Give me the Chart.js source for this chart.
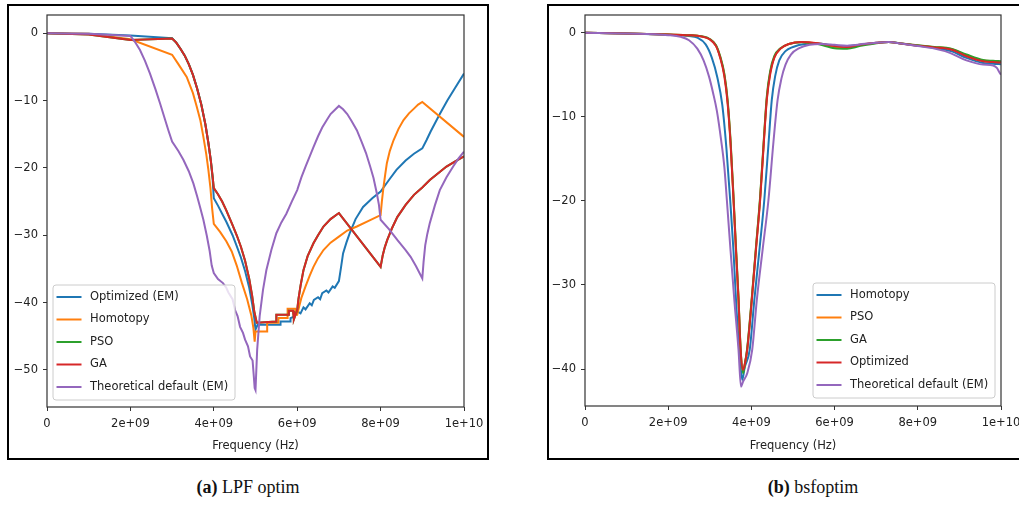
<!DOCTYPE html>
<html>
<head>
<meta charset="utf-8">
<script src="https://cdn.jsdelivr.net/npm/chart.js@4.4.1/dist/chart.umd.min.js"></script>
<style>
  body { margin: 0; background: #fff; width: 1019px; height: 505px; overflow: hidden; position: relative; }
  .panel { position: absolute; border: 2px solid #000; box-sizing: border-box; }
  canvas { position: absolute; top: 0; }
  .cap { position: absolute; top: 477px; width: 480px; text-align: center; font-family: "Liberation Serif", serif; font-size: 18px; color: #111; }
</style>
</head>
<body>
<div class="panel" style="left:7px;top:4px;width:482px;height:456px"></div>
<div class="panel" style="left:547px;top:4px;width:482px;height:456px"></div>
<canvas id="lpfChart" width="510" height="470" style="left:0"></canvas>
<canvas id="bsfChart" width="500" height="470" style="left:540px"></canvas>
<div class="cap" style="left:8px"><b>(a)</b> LPF optim</div>
<div class="cap" style="left:573px"><b>(b)</b> bsfoptim</div>
<script>
// tick labels
const xTickVals = [0, 2e9, 4e9, 6e9, 8e9, 1e10];
const xTickLabels = ['0', '2e+09', '4e+09', '6e+09', '8e+09', '1e+10'];
const lpfYTicks = [0, -10, -20, -30, -40, -50];
const bsfYTicks = [0, -10, -20, -30, -40];

// (a) LPF optim  -- frequencies in GHz, values in dB
const lpfOptX = [0, 1, 2, 3, 3.1, 3.2, 3.3, 3.4, 3.5, 3.6, 3.7, 3.8, 3.87, 3.93, 3.97, 4.0, 4.1, 4.2, 4.3, 4.45, 4.55, 4.65, 4.75, 4.85, 4.92, 4.97, 5.0, 5.05, 5.6, 5.6, 5.84, 5.84, 5.92, 6.0, 6.08, 6.15, 6.2, 6.3, 6.35, 6.4, 6.5, 6.55, 6.6, 6.7, 6.75, 6.85, 6.9, 7.0, 7.05, 7.1, 7.18, 7.26, 7.4, 7.58, 7.8, 8.0, 8.2, 8.38, 8.6, 8.8, 9.0, 9.1, 9.2, 9.31, 9.42, 9.6, 9.8, 10];
const lpfOptY = [0, -0.1, -0.35, -0.75, -1.4, -2.3, -3.3, -4.6, -6.2, -8.2, -10.6, -13.6, -16.3, -19, -21.5, -24.5, -25.6, -26.8, -28, -30, -31.6, -33.3, -35.3, -37.8, -40.2, -42.3, -44, -43.3, -43.3, -42.8, -42.8, -42.3, -42.1, -41.3, -41.6, -40.7, -41, -40.1, -40.4, -39.6, -39.2, -39.5, -38.6, -38.2, -38.5, -37.6, -37.8, -36.8, -34.8, -32.7, -31.1, -29.7, -27.6, -25.8, -24.5, -23.5, -21.8, -20.3, -18.9, -17.9, -17.1, -15.9, -14.6, -13.3, -12, -10, -8, -6];

const lpfHomX = [0, 1, 2, 3.0, 3.15, 3.35, 3.5, 3.59, 3.68, 3.75, 3.82, 3.87, 3.92, 3.96, 4.0, 4.15, 4.3, 4.43, 4.55, 4.67, 4.8, 4.9, 4.95, 4.98, 5.0, 5.28, 5.28, 5.55, 5.55, 5.77, 5.77, 5.95, 5.97, 6.0, 6.05, 6.1, 6.2, 6.3, 6.39, 6.5, 6.63, 6.8, 7.0, 7.2, 7.43, 7.7, 8.0, 8.03, 8.07, 8.11, 8.15, 8.22, 8.31, 8.43, 8.55, 8.68, 8.8, 8.9, 9.0, 10];
const lpfHomY = [0, -0.1, -0.9, -3.2, -4.6, -6.5, -8.9, -10.9, -13, -15.4, -18, -20.3, -23, -26, -28.3, -29.5, -30.9, -32.4, -34.5, -37, -39.5, -41.9, -43.8, -45.8, -44.3, -44.3, -43, -43, -42.3, -42.3, -40.9, -40.9, -41.8, -41.8, -40.5, -39.3, -37.6, -36, -34.7, -33.4, -32.2, -31.1, -30.2, -29.3, -28.7, -27.9, -27, -25, -22.8, -21, -19.3, -17.5, -15.9, -14.2, -12.9, -11.9, -11.2, -10.6, -10.2, -15.4];

const lpfGaX = [0, 1, 2, 3.0, 3.1, 3.2, 3.3, 3.4, 3.5, 3.6, 3.7, 3.8, 3.87, 3.93, 3.97, 4.0, 4.1, 4.2, 4.3, 4.45, 4.55, 4.65, 4.75, 4.85, 4.92, 4.97, 5.03, 5.5, 5.5, 5.8, 5.8, 5.9, 5.92, 6.0, 6.03, 6.08, 6.15, 6.25, 6.39, 6.5, 6.63, 6.8, 7.0, 8.0, 8.05, 8.1, 8.16, 8.27, 8.4, 8.6, 8.8, 9.0, 9.18, 9.38, 9.58, 9.8, 10];
const lpfGaY = [0, -0.2, -1.0, -0.8, -1.4, -2.3, -3.3, -4.6, -6.2, -8.2, -10.6, -13.6, -16.3, -19, -21.2, -23, -23.9, -25, -26.3, -28.5, -30, -31.7, -33.8, -36.5, -39, -41.3, -43, -42.8, -41.8, -41.8, -41.2, -41.2, -42.5, -41.1, -39.5, -37.5, -35.2, -33.1, -31.2, -30, -28.7, -27.6, -26.7, -34.7, -33, -31.8, -30.7, -29, -27.3, -25.5, -24, -22.9, -21.8, -20.8, -19.8, -19, -18.3];

const lpfPsoX = lpfGaX;
const lpfPsoY = [0, -0.2, -1.0, -0.8, -1.4, -2.3, -3.3, -4.6, -6.2, -8.2, -10.6, -13.6, -16.3, -19, -21.2, -23, -23.9, -25, -26.3, -28.5, -30, -31.7, -33.8, -36.5, -39, -41.3, -43, -42.8, -41.8, -41.8, -41.2, -41.2, -42.5, -41.1, -39.5, -37.5, -35.2, -33.1, -31.2, -30, -28.7, -27.6, -26.7, -34.7, -33, -31.8, -30.7, -29, -27.3, -25.5, -24, -22.9, -21.8, -20.8, -19.8, -19, -18.3];

const lpfTheoX = [0, 1, 2, 2.1, 2.23, 2.35, 2.47, 2.6, 2.71, 2.81, 2.91, 3.0, 3.15, 3.27, 3.4, 3.51, 3.6, 3.67, 3.75, 3.83, 3.9, 3.95, 4.0, 4.1, 4.22, 4.3, 4.35, 4.45, 4.51, 4.57, 4.63, 4.7, 4.75, 4.82, 4.87, 4.93, 4.96, 4.98, 5.0, 5.04, 5.1, 5.18, 5.26, 5.38, 5.5, 5.62, 5.74, 5.87, 6.0, 6.1, 6.2, 6.3, 6.39, 6.5, 6.6, 6.71, 6.8, 6.9, 7.0, 7.1, 7.2, 7.3, 7.43, 7.55, 7.65, 7.75, 7.83, 7.91, 7.96, 8.0, 8.2, 8.4, 8.6, 8.72, 8.85, 9.0, 9.03, 9.07, 9.12, 9.18, 9.3, 9.42, 9.58, 9.74, 9.87, 10];
const lpfTheoY = [0, -0.1, -0.4, -1.2, -2.5, -4.1, -6, -8.3, -10.4, -12.4, -14.4, -16.1, -17.5, -18.8, -20.5, -22.3, -24.2, -25.8, -27.7, -30, -32.3, -34.5, -35.6, -36.5, -37.1, -37.8, -38.5, -39.5, -41.1, -42, -43.6, -44.5, -45.5, -46.5, -48, -48.6, -51, -52.7, -53, -47, -42, -38.1, -35.2, -32.2, -29.7, -28.1, -26.8, -25, -23.3, -21.4, -19.8, -18.3, -16.9, -15.3, -14, -12.9, -12, -11.4, -10.8, -11.3, -12, -13, -14.4, -16.2, -17.8, -19.8, -21.5, -23.8, -25.5, -27.7, -29.1, -30.7, -32.2, -33.2, -34.6, -36.4, -34, -31.5, -29.8, -28.2, -25.6, -23.3, -21.4, -19.8, -18.6, -17.6];

// (b) bsfoptim
const bsfHomX = [0, 1, 2, 2.5, 2.7, 2.9, 3.05, 3.18, 3.3, 3.4, 3.49, 3.57, 3.63, 3.72, 3.78, 3.84, 3.96, 4.07, 4.2, 4.31, 4.41, 4.49, 4.57, 4.67, 4.82, 5.0, 5.3, 5.6, 6.0, 6.3, 6.6, 7.0, 7.3, 7.6, 8.0, 8.4, 8.8, 9.17, 9.57, 9.81, 10];
const bsfHomY = [0, -0.1, -0.25, -0.4, -0.6, -1.4, -3, -5.3, -8.6, -13.8, -19.9, -26, -31.8, -38.5, -41.3, -39.8, -37.7, -31.8, -25.5, -19.9, -13.3, -8, -5.2, -3.3, -2.2, -1.7, -1.35, -1.3, -1.55, -1.6, -1.45, -1.2, -1.1, -1.3, -1.55, -1.8, -2.2, -3.0, -3.6, -3.7, -3.75];

const bsfOptX = [0, 1, 2, 2.5, 2.8, 3.0, 3.15, 3.25, 3.35, 3.43, 3.5, 3.57, 3.63, 3.69, 3.74, 3.8, 3.85, 3.9, 4.01, 4.11, 4.21, 4.3, 4.37, 4.45, 4.55, 4.7, 4.9, 5.2, 5.6, 6.0, 6.3, 6.6, 7.0, 7.3, 7.6, 8.0, 8.4, 8.8, 9.17, 9.57, 9.81, 10];
const bsfOptY = [0, -0.1, -0.22, -0.3, -0.45, -0.8, -1.6, -3, -5.2, -8.5, -13.3, -19.9, -26, -31.8, -37.7, -40.1, -39.2, -37.7, -31.8, -25.8, -19.9, -13, -8, -5, -3, -1.9, -1.35, -1.1, -1.25, -1.6, -1.7, -1.45, -1.2, -1.1, -1.3, -1.55, -1.75, -2.0, -2.8, -3.4, -3.5, -3.55];

const bsfGaX = bsfOptX;
const bsfGaY = [0, -0.1, -0.22, -0.3, -0.43, -0.75, -1.5, -2.8, -4.9, -8.1, -12.9, -19.5, -25.6, -31.5, -37.5, -40.5, -39.2, -37.5, -31.5, -25.5, -19.5, -12.6, -7.6, -4.6, -2.8, -1.85, -1.35, -1.15, -1.35, -1.85, -1.9, -1.6, -1.25, -1.1, -1.3, -1.5, -1.7, -1.9, -2.6, -3.25, -3.35, -3.4];

const bsfPsoX = bsfOptX;
const bsfPsoY = [0, -0.1, -0.22, -0.3, -0.44, -0.78, -1.55, -2.9, -5.0, -8.3, -13.1, -19.7, -25.8, -31.6, -37.6, -40.3, -39.2, -37.6, -31.6, -25.6, -19.7, -12.8, -7.8, -4.8, -2.9, -1.9, -1.35, -1.12, -1.3, -1.75, -1.8, -1.5, -1.22, -1.1, -1.3, -1.52, -1.72, -1.95, -2.7, -3.3, -3.4, -3.5];

const bsfTheoX = [0, 1, 2, 2.3, 2.5, 2.7, 2.85, 2.98, 3.08, 3.17, 3.27, 3.35, 3.41, 3.5, 3.59, 3.69, 3.75, 3.8, 3.9, 4.02, 4.13, 4.27, 4.41, 4.53, 4.63, 4.72, 4.82, 4.95, 5.15, 5.4, 5.7, 6.0, 6.3, 6.6, 7.0, 7.3, 7.6, 8.0, 8.4, 8.77, 9.17, 9.57, 9.81, 9.9, 9.96, 10];
const bsfTheoY = [0, -0.1, -0.3, -0.5, -0.9, -1.9, -3.3, -5.2, -7.2, -9.3, -12.7, -16, -19.9, -26, -31.8, -37.7, -42.1, -41.5, -40.5, -37.7, -31.8, -25.8, -19.9, -13, -8, -5.5, -3.8, -2.6, -1.85, -1.45, -1.35, -1.45, -1.55, -1.4, -1.2, -1.1, -1.3, -1.6, -1.9, -2.4, -3.3, -3.8, -3.9, -4.2, -4.7, -5];

const tab = { blue: '#1f77b4', orange: '#ff7f0e', green: '#2ca02c', red: '#d62728', purple: '#9467bd' };

function pts(xs, ys) {
  return xs.map((x, i) => ({ x: x * 1e9, y: ys[i] }));
}

Chart.defaults.font.family = '"DejaVu Sans"';
Chart.defaults.font.size = 11.5;
Chart.defaults.color = '#222';

// frame round the axes and a matplotlib-like legend box inside
const boxLegend = {
  id: 'boxLegend',
  afterDatasetsDraw(chart, args, opts) {
    const { ctx, chartArea: a } = chart;
    ctx.save();
    ctx.strokeStyle = '#333';
    ctx.lineWidth = 1.2;
    ctx.strokeRect(a.left, a.top, a.right - a.left, a.bottom - a.top);

    const w = opts.width, h = opts.height;
    const x0 = opts.side === 'left' ? a.left + opts.margin : a.right - opts.margin - w;
    const y0 = a.bottom - opts.marginBottom - h;
    ctx.beginPath();
    ctx.roundRect(x0, y0, w, h, 3);
    ctx.fillStyle = 'rgba(255,255,255,0.8)';
    ctx.fill();
    ctx.strokeStyle = '#cccccc';
    ctx.lineWidth = 1;
    ctx.stroke();

    ctx.font = '11.5px "DejaVu Sans"';
    ctx.textBaseline = 'middle';
    chart.data.datasets.forEach((ds, i) => {
      const y = y0 + 12 + i * 22.5;
      ctx.strokeStyle = ds.borderColor;
      ctx.lineWidth = 2;
      ctx.beginPath();
      ctx.moveTo(x0 + 3.5, y);
      ctx.lineTo(x0 + 28.5, y);
      ctx.stroke();
      ctx.fillStyle = '#222';
      ctx.fillText(ds.label, x0 + 37, y);
    });
    ctx.restore();
  }
};

function makeChart(id, series, yTicks, yMin, yMax, box, smooth) {
  const n = series.length;
  const datasets = series.map((s, i) => ({
    label: s.label,
    data: s.data,
    borderColor: s.color,
    borderWidth: 2,
    pointRadius: 0,
    fill: false,
    tension: smooth ? 0.4 : 0,
    cubicInterpolationMode: smooth ? 'monotone' : 'default',
    order: n - 1 - i
  }));
  return new Chart(document.getElementById(id), {
    type: 'line',
    data: { datasets },
    options: {
      responsive: false,
      animation: false,
      events: [],
      layout: { padding: { left: 0, top: 15, right: box.padRight, bottom: 12 } },
      plugins: {
        legend: { display: false },
        tooltip: { enabled: false },
        boxLegend: box.legend
      },
      scales: {
        x: {
          type: 'linear',
          min: 0,
          max: 1e10,
          afterBuildTicks: (sc) => { sc.ticks = xTickVals.map(v => ({ value: v })); },
          afterFit: (sc) => { sc.height = box.xHeight; },
          ticks: {
            autoSkip: false,
            maxRotation: 0,
            padding: 6,
            callback: (v) => xTickLabels[xTickVals.indexOf(v)]
          },
          grid: { drawOnChartArea: false, drawTicks: true, tickLength: 4, color: '#333' },
          border: { display: false },
          title: { display: true, text: 'Frequency (Hz)', color: '#222', padding: { top: 4, bottom: 5 } }
        },
        y: {
          type: 'linear',
          min: yMin,
          max: yMax,
          afterBuildTicks: (sc) => { sc.ticks = yTicks.map(v => ({ value: v })); },
          afterFit: (sc) => { sc.width = box.yWidth; },
          ticks: {
            padding: 5,
            callback: (v) => (v < 0 ? '\u2212' + Math.abs(v) : String(v))
          },
          grid: { drawOnChartArea: false, drawTicks: true, tickLength: 4, color: '#333' },
          border: { display: false }
        }
      }
    },
    plugins: [boxLegend]
  });
}

makeChart('lpfChart', [
  { label: 'Optimized (EM)', data: pts(lpfOptX, lpfOptY), color: tab.blue },
  { label: 'Homotopy', data: pts(lpfHomX, lpfHomY), color: tab.orange },
  { label: 'PSO', data: pts(lpfPsoX, lpfPsoY), color: tab.green },
  { label: 'GA', data: pts(lpfGaX, lpfGaY), color: tab.red },
  { label: 'Theoretical default (EM)', data: pts(lpfTheoX, lpfTheoY), color: tab.purple }
], lpfYTicks, -55.5, 2.7, {
  padRight: 46, xHeight: 51, yWidth: 47,
  legend: { side: 'left', margin: 6, marginBottom: 7, width: 182, height: 115 }
}, false);

makeChart('bsfChart', [
  { label: 'Homotopy', data: pts(bsfHomX, bsfHomY), color: tab.blue },
  { label: 'PSO', data: pts(bsfPsoX, bsfPsoY), color: tab.orange },
  { label: 'GA', data: pts(bsfGaX, bsfGaY), color: tab.green },
  { label: 'Optimized', data: pts(bsfOptX, bsfOptY), color: tab.red },
  { label: 'Theoretical default (EM)', data: pts(bsfTheoX, bsfTheoY), color: tab.purple }
], bsfYTicks, -44.4, 2.1, {
  padRight: 39, xHeight: 52, yWidth: 45,
  legend: { side: 'right', margin: 6, marginBottom: 8, width: 182, height: 115 }
}, true);
</script>
</body>
</html>
